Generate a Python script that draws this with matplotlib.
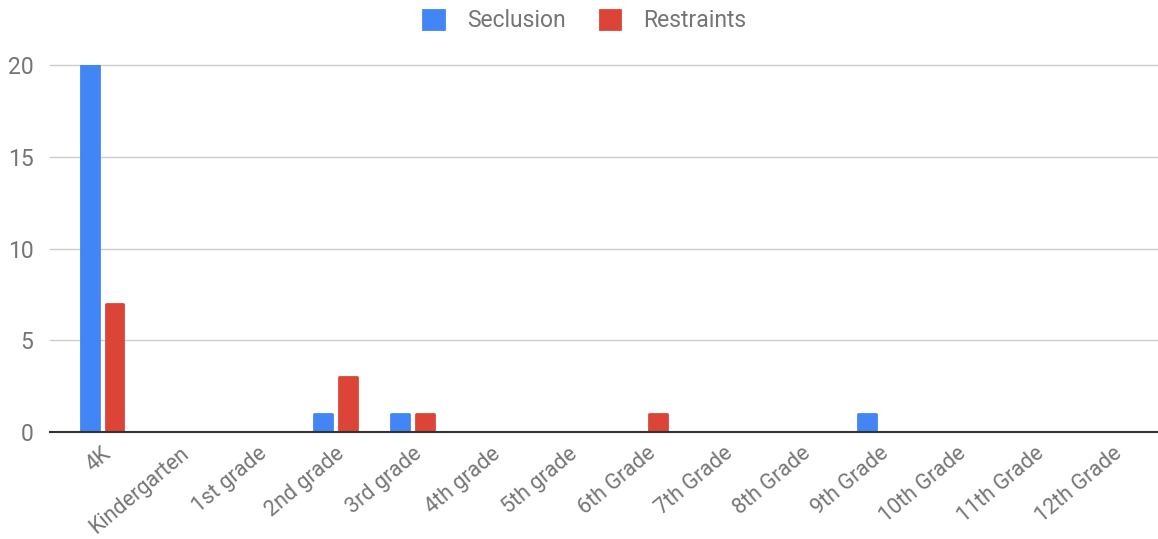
import matplotlib
matplotlib.use("Agg")
import matplotlib.pyplot as plt
import numpy as np

categories = ["4K", "Kindergarten", "1st grade", "2nd grade", "3rd grade", "4th grade",
              "5th grade", "6th Grade", "7th Grade", "8th Grade", "9th Grade",
              "10th Grade", "11th Grade", "12th Grade"]
seclusion = [20, 0, 0, 1, 1, 0, 0, 0, 0, 0, 1, 0, 0, 0]
restraints = [7, 0, 0, 3, 1, 0, 0, 1, 0, 0, 0, 0, 0, 0]
yticks = [0, 5, 10, 15, 20]

BLUE = "#4285F4"
RED = "#DB4437"
TXT = "#757575"

plt.rcParams['font.family'] = ['Roboto', 'DejaVu Sans']

fig = plt.figure(figsize=(11.58, 5.39), dpi=100)
ax = fig.add_axes([50/1158, 107/539, 1108/1158, (432-65)/539])

x = np.arange(len(categories))
w = 0.23
off = 0.16
ax.bar(x - off, seclusion, width=w, color=BLUE, edgecolor=BLUE, linewidth=2,
       joinstyle='round', label="Seclusion", zorder=3)
ax.bar(x + off, restraints, width=w, color=RED, edgecolor=RED, linewidth=2,
       joinstyle='round', label="Restraints", zorder=3)

ax.set_xlim(-0.67, 13.59)
ax.set_ylim(0, 20)
for t in yticks[1:]:
    ax.axhline(t, color="#cccccc", linewidth=1, zorder=1, clip_on=False)
ax.axhline(0, color="#333333", linewidth=1.5, zorder=4, clip_on=False)

for s in ax.spines.values():
    s.set_visible(False)

ax.set_yticks(yticks)
ax.set_yticklabels([str(t) for t in yticks], color=TXT, fontsize=16.5)
ax.tick_params(axis='y', length=0, pad=12)
ax.set_xticks(x)
ax.set_xticklabels(categories, rotation=40, ha='right', rotation_mode='anchor',
                   color=TXT, fontsize=15.5)
ax.tick_params(axis='x', length=0, pad=8)

leg = fig.legend(loc='center', bbox_to_anchor=(0.505, 1 - 21/539), ncol=2, frameon=False,
                 fontsize=16.5, handlelength=0.9, handleheight=0.9, columnspacing=1.5,
                 handletextpad=1.0)
for t in leg.get_texts():
    t.set_color(TXT)

fig.savefig("out.png", dpi=100)
